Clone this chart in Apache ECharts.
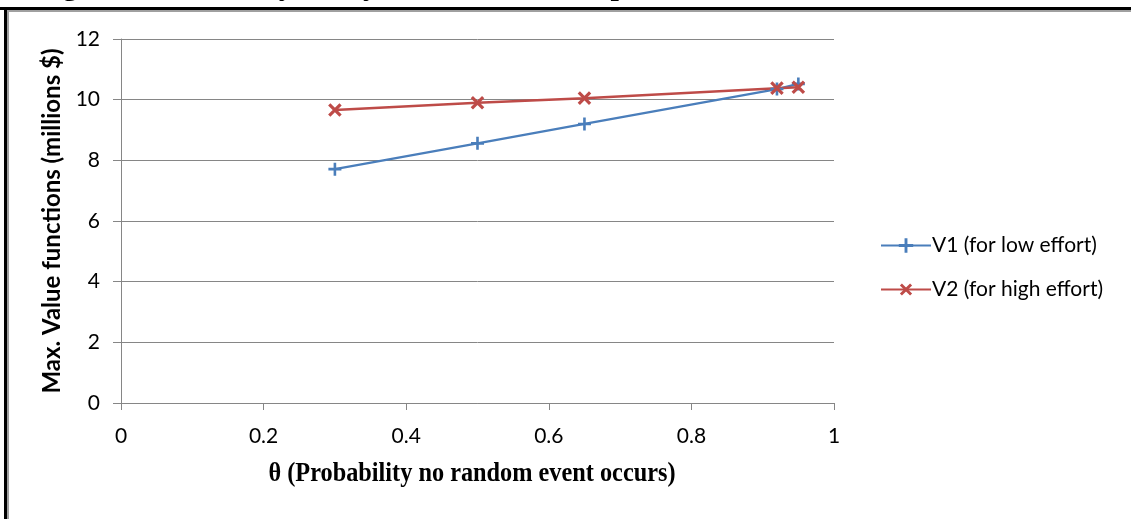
<!DOCTYPE html>
<html>
<head>
<meta charset="utf-8">
<script src="https://cdn.jsdelivr.net/npm/echarts@6/dist/echarts.min.js"></script>
<style>
html,body{margin:0;padding:0;background:#fff;}
#chart{width:1131px;height:519px;}
</style>
</head>
<body>
<div id="chart"></div>
<script>
// theta values and max value functions (millions $)
const theta = [0.3, 0.5, 0.65, 0.92, 0.95];
const v1Low = [7.71, 8.56, 9.2, 10.35, 10.52];
const v2High = [9.66, 9.9, 10.05, 10.38, 10.41];
const seriesNames = ['V1 (for low effort)', 'V2 (for high effort)'];
const yTicks = [0, 2, 4, 6, 8, 10, 12];
const xTicks = [0, 0.2, 0.4, 0.6, 0.8, 1];

const BLUE = '#4a7ebb', RED = '#be4b48', GRID = '#868686';
const PLUS = 'path://M4,0H6V10H4Z M0,4H10V6H0Z';
const LABEL_FONT = 'Lato';

const chart = echarts.init(document.getElementById('chart'));

const pairs = arr => theta.map((t, i) => [t, arr[i]]);

chart.setOption({
    animation: false,
    backgroundColor: '#ffffff',
    grid: {left: 121, right: 297, top: 39, bottom: 116},
    legend: {
        orient: 'vertical', left: 875, top: 230, itemGap: 23,
        itemWidth: 50, itemHeight: 18,
        textStyle: {fontFamily: LABEL_FONT, fontSize: 21, color: '#000', padding: [0, 0, 0, -4]},
        data: seriesNames
    },
    xAxis: {
        type: 'value', min: xTicks[0], max: xTicks[xTicks.length - 1], interval: 0.2,
        axisLine: {lineStyle: {color: GRID, width: 1}},
        axisTick: {show: true, length: 7, lineStyle: {color: GRID}},
        axisLabel: {fontFamily: LABEL_FONT, fontSize: 21, color: '#000', margin: 23},
        splitLine: {show: false}
    },
    yAxis: {
        type: 'value', min: yTicks[0], max: yTicks[yTicks.length - 1], interval: 2,
        name: 'Max. Value functions (millions $)',
        nameLocation: 'middle', nameGap: 54,
        nameTextStyle: {fontFamily: LABEL_FONT, fontWeight: 'bold', fontSize: 24, color: '#000'},
        axisLine: {show: true, lineStyle: {color: GRID, width: 1}},
        axisTick: {show: true, length: 8, lineStyle: {color: GRID}},
        axisLabel: {fontFamily: LABEL_FONT, fontSize: 21, color: '#000', margin: 21},
        splitLine: {lineStyle: {color: GRID, width: 1}}
    },
    series: [
        {
            name: seriesNames[0], type: 'line', data: pairs(v1Low),
            symbol: PLUS, symbolSize: 13,
            lineStyle: {color: BLUE, width: 2.25},
            itemStyle: {color: BLUE}
        },
        {
            name: seriesNames[1], type: 'line', data: pairs(v2High),
            symbol: PLUS, symbolSize: 16, symbolRotate: 45,
            lineStyle: {color: RED, width: 2.5},
            itemStyle: {color: RED}
        }
    ],
    graphic: [
        // x axis title, condensed serif
        {type: 'text', x: 472, y: 474, scaleX: 0.9, z: 50,
         style: {text: 'θ (Probability no random event occurs)',
                 font: 'bold 30px "Liberation Serif"'.replace('30px', '27px'), fill: '#000', align: 'center', verticalAlign: 'middle'}},
        // clipped caption text above the frame
        {type: 'text', x: 36, y: 2, z: 100,
         style: {text: 'Figure 4: Sensitivity Analysis of V1 and V2 Specifications for alternate values of θ',
                 font: 'bold 30px "Liberation Serif"', fill: '#000', verticalAlign: 'bottom'}},
        // frame
        {type: 'rect', shape: {x: 0, y: 7, width: 1131, height: 3}, style: {fill: '#000'}, z: 100},
        {type: 'rect', shape: {x: 4, y: 7, width: 3, height: 512}, style: {fill: '#000'}, z: 100},
        {type: 'rect', shape: {x: 7, y: 10, width: 1124, height: 2}, style: {fill: '#a0a0a0'}, z: 100},
        {type: 'rect', shape: {x: 7, y: 10, width: 2, height: 509}, style: {fill: '#a0a0a0'}, z: 100}
    ]
});
</script>
</body>
</html>
